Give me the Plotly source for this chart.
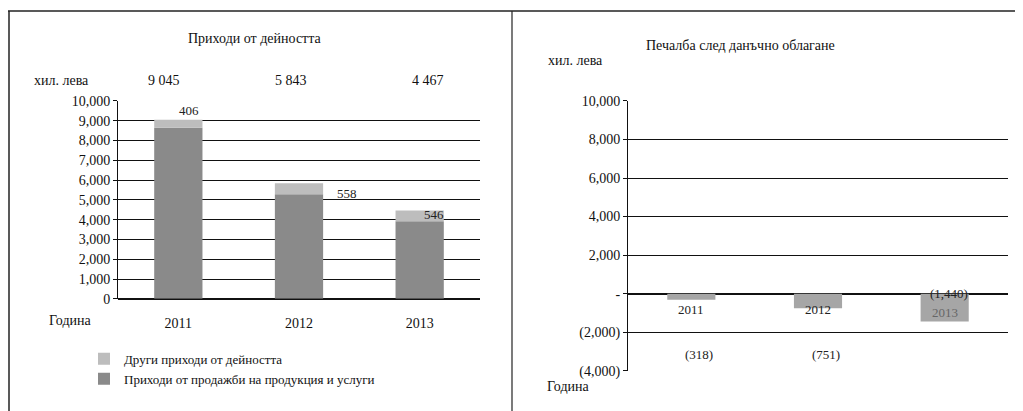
import plotly.graph_objects as go

OFF_X = 8          # хоризонтално отместване на страницата
OFF_Y, SY = 14, 0.963  # вертикално отместване/мащаб, измерени от изображението
W, H = 1015, 425

# --- данни ---
years = ["2011", "2012", "2013"]
sales = [8639, 5285, 3921]          # приходи от продажби
other = [406, 558, 546]             # други приходи
totals = [9045, 5843, 4467]
total_labels = ["9 045", "5 843", "4 467"]
profit = [-318, -751, -1440]
profit_labels = ["(318)", "(751)", "(1,440)"]

left_ticks = [0, 1000, 2000, 3000, 4000, 5000, 6000, 7000, 8000, 9000, 10000]
right_ticks = [-4000, -2000, 0, 2000, 4000, 6000, 8000, 10000]
right_ticktext = ["(4,000)", "(2,000)", "-", "2,000", "4,000", "6,000", "8,000", "10,000"]

FONT = "Liberation Serif"


def px_x(x):
    return (x - OFF_X) / W


def px_y(y):
    return 1 - ((y - OFF_Y) / SY) / H


fig = go.Figure()

fig.add_trace(go.Bar(
    x=years, y=sales, name="Приходи от продажби на продукция и услуги",
    marker={"color": "#8a8a8a", "line": {"width": 0}}, width=0.4,
    xaxis="x", yaxis="y", legendgroup="a",
))
fig.add_trace(go.Bar(
    x=years, y=other, name="Други приходи от дейността",
    marker={"color": "#bdbdbd", "line": {"width": 0}}, width=0.4,
    xaxis="x", yaxis="y", legendgroup="b",
))
fig.add_trace(go.Bar(
    x=years, y=profit, marker={"color": "#a6a6a6", "line": {"width": 0}},
    width=0.38, xaxis="x2", yaxis="y2", showlegend=False,
))

ann = []
# суми над колоните (x = пореден номер на категорията)
for i, (lab, dx) in enumerate(zip(total_labels, [-14, -8, 8])):
    ann.append(dict(x=i, y=px_y(80), xref="x", yref="paper", text=lab, yanchor="middle",
                    showarrow=False, xshift=dx, font={"size": 14, "color": "#111"}))
# етикети на други приходи
for i, (o, t, dx, dy) in enumerate(zip(other, totals, [11, 48, 14], [0, -1000, -700])):
    ann.append(dict(x=i, y=t + dy, xref="x", yref="y", text=str(o), showarrow=False,
                    xshift=dx, yanchor="bottom", font={"size": 13, "color": "#222"}))
# етикети на печалбата
for i, (yr, p, lab) in enumerate(zip(years, profit, profit_labels)):
    if p > -1000:
        ann.append(dict(x=i, y=-800, xref="x2", yref="y2", text=yr, showarrow=False,
                        font={"size": 13, "color": "#222"}))
        ann.append(dict(x=i, y=-3150, xref="x2", yref="y2", text=lab, showarrow=False,
                        xshift=8, font={"size": 13, "color": "#222"}))
    else:
        ann.append(dict(x=i, y=-1000, xref="x2", yref="y2", text=yr, showarrow=False,
                        font={"size": 13, "color": "#666"}))
        ann.append(dict(x=i, y=0, xref="x2", yref="y2", text=lab, showarrow=False,
                        xshift=4, font={"size": 13, "color": "#222"}))

texts = [
    ("Приходи от дейността", 255, 38, 14),
    ("хил. лева", 61, 80, 14),
    ("Година", 70, 320, 14),
    ("Печалба след данъчно облагане", 740, 45, 14),
    ("хил. лева", 575, 60, 14),
    ("Година", 568, 386, 14),
]
for t, x, y, sz in texts:
    ann.append(dict(x=px_x(x), y=px_y(y), xref="paper", yref="paper", text=t,
                    showarrow=False, xanchor="center", yanchor="middle",
                    font={"size": sz, "color": "#111"}))

shapes = [
    dict(type="line", xref="paper", yref="paper", x0=0, x1=1, y0=px_y(10), y1=px_y(10),
         line={"color": "#222", "width": 1.5}),
    dict(type="line", xref="paper", yref="paper", x0=px_x(9), x1=px_x(9), y0=px_y(10), y1=0,
         line={"color": "#222", "width": 1.5}),
    dict(type="line", xref="paper", yref="paper", x0=px_x(512), x1=px_x(512), y0=px_y(10), y1=0,
         line={"color": "#222", "width": 1.2}),
]

axis_font = {"family": FONT, "size": 14, "color": "#111"}
fig.update_layout(
    width=W, height=H, barmode="relative",
    paper_bgcolor="white", plot_bgcolor="white",
    margin={"l": 0, "r": 0, "t": 0, "b": 0},
    font={"family": FONT, "color": "#111"},
    xaxis=dict(type="category", domain=[px_x(118), px_x(480)], range=[-0.5, 2.5],
               tickfont=axis_font, showline=False, ticks="", ticklabelstandoff=14),
    yaxis=dict(domain=[px_y(298), px_y(100)], range=[0, 10000], tickvals=left_ticks,
               tickformat=",", tickfont=axis_font, showgrid=True, gridcolor="#111",
               gridwidth=1, showline=True, linecolor="#111", ticks="outside", ticklen=4,
               tickcolor="#111", zeroline=True, zerolinecolor="#111"),
    xaxis2=dict(type="category", domain=[px_x(628), px_x(1008)], range=[-0.5, 2.5],
                visible=False, anchor="y2"),
    yaxis2=dict(domain=[px_y(370), px_y(100)], range=[-4000, 10000], tickvals=right_ticks,
                ticktext=right_ticktext, tickfont=axis_font, showgrid=True, gridcolor="#111",
                gridwidth=1, showline=True, linecolor="#111", ticks="outside", ticklen=4,
                tickcolor="#111", zeroline=True, zerolinecolor="#111", anchor="x2"),
    legend=dict(x=px_x(84), y=px_y(343), xanchor="left", yanchor="top",
                traceorder="reversed", tracegroupgap=8, itemwidth=30,
                font={"family": FONT, "size": 13, "color": "#111"}, bgcolor="rgba(0,0,0,0)"),
    annotations=ann, shapes=shapes,
)

fig.write_html("out.html")
